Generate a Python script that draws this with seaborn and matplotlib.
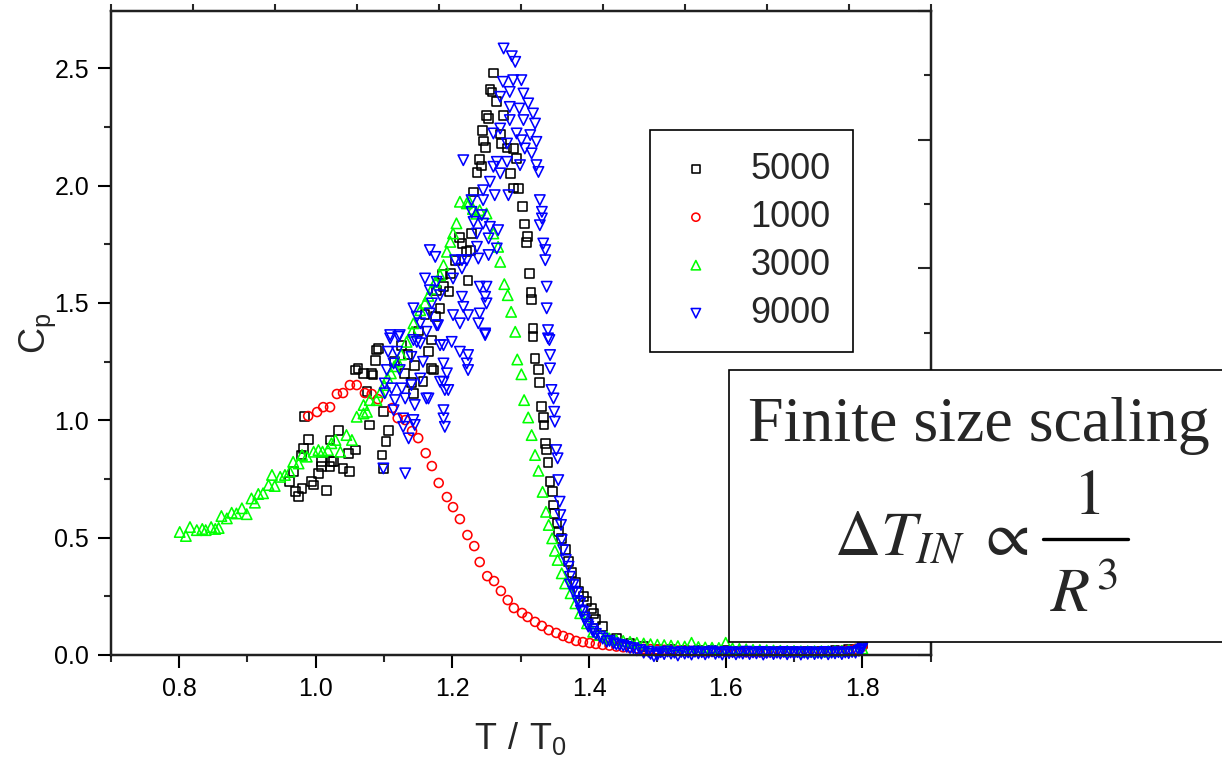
import numpy as np
import pandas as pd
import seaborn as sns
import matplotlib
matplotlib.use("Agg")
import matplotlib.pyplot as plt
from matplotlib.patches import Rectangle
from matplotlib.lines import Line2D
from matplotlib.ticker import MultipleLocator

# ---------------- data ----------------
series_labels = ["5000", "1000", "3000", "9000"]

black_5000 = [
    (0.984, 1.015), (0.989, 0.918), (0.982, 0.880), (0.979, 0.852), (0.967, 0.781), (0.962, 0.738),
    (0.970, 0.696), (0.975, 0.674), (0.980, 0.710), (0.994, 0.738), (0.997, 0.724), (1.004, 0.774),
    (1.009, 0.802), (1.009, 0.823), (1.016, 0.700), (1.021, 0.802), (1.023, 0.823), (1.021, 0.916),
    (1.033, 0.958), (1.026, 0.823), (1.040, 0.795), (1.050, 0.781), (1.048, 0.859), (1.058, 0.873),
    (1.058, 1.214), (1.062, 1.221), (1.070, 1.200), (1.082, 1.200), (1.084, 1.193), (1.075, 1.121),
    (1.079, 0.980), (1.089, 1.299), (1.088, 1.256), (1.099, 1.036), (1.106, 0.958), (1.103, 0.908),
    (1.097, 0.852), (1.099, 0.795), (1.092, 1.306),
    (1.115, 1.25), (1.125, 1.32), (1.130, 1.20), (1.135, 1.28), (1.140, 1.16), (1.143, 1.115),
    (1.145, 1.235), (1.150, 1.38), (1.157, 1.164), (1.160, 1.45), (1.165, 1.292), (1.170, 1.221),
    (1.170, 1.342), (1.172, 1.214), (1.175, 1.441), (1.177, 1.554), (1.182, 1.477), (1.185, 1.62),
    (1.187, 1.569), (1.195, 1.55), (1.197, 1.626), (1.205, 1.68), (1.210, 1.78), (1.214, 1.753),
    (1.221, 1.718), (1.223, 1.597), (1.226, 1.725), (1.228, 1.796), (1.231, 1.973), (1.236, 2.054),
    (1.240, 2.111), (1.243, 2.083), (1.244, 2.236), (1.245, 2.19), (1.248, 2.162), (1.250, 2.30),
    (1.253, 2.286), (1.255, 2.41), (1.258, 2.399), (1.260, 2.480), (1.265, 2.357), (1.270, 2.22),
    (1.272, 2.179), (1.275, 2.300), (1.280, 2.16), (1.285, 2.05), (1.289, 2.158), (1.290, 1.99),
    (1.294, 2.115), (1.297, 1.988), (1.303, 1.912), (1.306, 1.836), (1.308, 1.756), (1.310, 1.782),
    (1.313, 1.626), (1.315, 1.545), (1.316, 1.515), (1.318, 1.391), (1.318, 1.356), (1.321, 1.264),
    (1.326, 1.217), (1.328, 1.161), (1.331, 1.058), (1.333, 1.012), (1.334, 0.980), (1.336, 0.902),
    (1.338, 0.876), (1.340, 0.821), (1.343, 0.738), (1.346, 0.696), (1.348, 0.639), (1.350, 0.603),
    (1.353, 0.561), (1.355, 0.525), (1.360, 0.497), (1.365, 0.45), (1.370, 0.40), (1.375, 0.35),
    (1.380, 0.31), (1.385, 0.27), (1.392, 0.248), (1.397, 0.227), (1.404, 0.199), (1.406, 0.178),
    (1.410, 0.15), (1.420, 0.12), (1.440, 0.07), (1.460, 0.05), (1.480, 0.035), (1.500, 0.025),
    (1.520, 0.022), (1.540, 0.020), (1.560, 0.019), (1.580, 0.018), (1.600, 0.018), (1.620, 0.017),
    (1.640, 0.017), (1.660, 0.016), (1.680, 0.016), (1.700, 0.016), (1.720, 0.017), (1.740, 0.017),
    (1.760, 0.018), (1.780, 0.022), (1.800, 0.050),
]

red_1000 = [
    (0.989, 1.018), (1.002, 1.035), (1.011, 1.056), (1.021, 1.056), (1.031, 1.112), (1.040, 1.116),
    (1.050, 1.150), (1.060, 1.150), (1.072, 1.116), (1.082, 1.112), (1.091, 1.090), (1.112, 1.052),
    (1.120, 1.009), (1.131, 1.001), (1.141, 0.954), (1.150, 0.924), (1.161, 0.860), (1.170, 0.805),
    (1.180, 0.733), (1.192, 0.673), (1.201, 0.630), (1.211, 0.579), (1.222, 0.511), (1.232, 0.464),
    (1.240, 0.396), (1.251, 0.336), (1.261, 0.315), (1.271, 0.273), (1.281, 0.234), (1.290, 0.200),
    (1.302, 0.179), (1.310, 0.162), (1.321, 0.141), (1.331, 0.124), (1.341, 0.106), (1.352, 0.094),
    (1.362, 0.081), (1.371, 0.072), (1.381, 0.060), (1.391, 0.055), (1.401, 0.051),
    (1.41, 0.047), (1.42, 0.043), (1.43, 0.040), (1.44, 0.036), (1.45, 0.033), (1.46, 0.031),
    (1.47, 0.028), (1.48, 0.026), (1.49, 0.025), (1.50, 0.023), (1.51, 0.022), (1.52, 0.020),
    (1.53, 0.019), (1.54, 0.018), (1.55, 0.017), (1.56, 0.016), (1.57, 0.016), (1.58, 0.015),
    (1.59, 0.014), (1.60, 0.014), (1.61, 0.013), (1.62, 0.013), (1.63, 0.012), (1.64, 0.012),
    (1.65, 0.012), (1.66, 0.011), (1.67, 0.011), (1.68, 0.011), (1.69, 0.011), (1.70, 0.011),
    (1.71, 0.011), (1.72, 0.012), (1.73, 0.012), (1.74, 0.013), (1.75, 0.014), (1.76, 0.016),
    (1.77, 0.018), (1.78, 0.021), (1.79, 0.026), (1.80, 0.035),
]

green_3000 = [
    (0.801, 0.524), (0.810, 0.507), (0.816, 0.545), (0.826, 0.532), (0.834, 0.537), (0.839, 0.532),
    (0.847, 0.545), (0.853, 0.537), (0.858, 0.541), (0.862, 0.592), (0.870, 0.582), (0.877, 0.606),
    (0.884, 0.603), (0.892, 0.625), (0.899, 0.600), (0.906, 0.667), (0.911, 0.649), (0.916, 0.686),
    (0.923, 0.689), (0.931, 0.724), (0.936, 0.767), (0.940, 0.720), (0.948, 0.759), (0.955, 0.767),
    (0.962, 0.781), (0.967, 0.823), (0.975, 0.816), (0.980, 0.852), (0.987, 0.845), (0.997, 0.866),
    (1.004, 0.873), (1.010, 0.866), (1.018, 0.873), (1.023, 0.902), (1.029, 0.916), (1.036, 0.866),
    (1.045, 0.937), (1.053, 0.916), (1.060, 1.015), (1.070, 1.029), (1.075, 1.036), (1.070, 1.065),
    (1.079, 1.086), (1.089, 1.086), (1.095, 1.12), (1.100, 1.15), (1.105, 1.18), (1.110, 1.20),
    (1.115, 1.23), (1.120, 1.25), (1.125, 1.28), (1.133, 1.334), (1.141, 1.377), (1.143, 1.413),
    (1.153, 1.469), (1.160, 1.50), (1.165, 1.53), (1.170, 1.56), (1.175, 1.59), (1.182, 1.618),
    (1.187, 1.661), (1.192, 1.718), (1.197, 1.760), (1.201, 1.796), (1.206, 1.839), (1.211, 1.931),
    (1.221, 1.924), (1.225, 1.93), (1.230, 1.90), (1.235, 1.88), (1.240, 1.895), (1.250, 1.881),
    (1.260, 1.796), (1.267, 1.739), (1.270, 1.675), (1.276, 1.580), (1.281, 1.533), (1.286, 1.462),
    (1.292, 1.377), (1.295, 1.259), (1.301, 1.196), (1.305, 1.086), (1.311, 1.012), (1.316, 0.937),
    (1.321, 0.852), (1.326, 0.785), (1.332, 0.695), (1.337, 0.610), (1.341, 0.554), (1.346, 0.497),
    (1.350, 0.444), (1.354, 0.405), (1.360, 0.348), (1.365, 0.305), (1.373, 0.263), (1.380, 0.220),
    (1.387, 0.178), (1.397, 0.135), (1.406, 0.099), (1.416, 0.085), (1.426, 0.078),
    (1.43, 0.070), (1.44, 0.064), (1.45, 0.060), (1.46, 0.056), (1.47, 0.052), (1.48, 0.049),
    (1.49, 0.046), (1.50, 0.044), (1.51, 0.042), (1.52, 0.040), (1.53, 0.038), (1.54, 0.036),
    (1.55, 0.052), (1.56, 0.034), (1.57, 0.032), (1.58, 0.031), (1.59, 0.030), (1.60, 0.052),
    (1.61, 0.028), (1.62, 0.026), (1.63, 0.024), (1.64, 0.022), (1.65, 0.021), (1.66, 0.020),
    (1.67, 0.019), (1.68, 0.018), (1.69, 0.017), (1.70, 0.017), (1.71, 0.016), (1.72, 0.016),
    (1.73, 0.016), (1.74, 0.016), (1.75, 0.016), (1.76, 0.017), (1.77, 0.018), (1.78, 0.020),
    (1.79, 0.023), (1.80, 0.028),
]

blue_9000 = [
    (1.275, 2.584), (1.287, 2.551), (1.292, 2.527), (1.274, 2.442), (1.289, 2.449), (1.301, 2.449),
    (1.284, 2.399), (1.304, 2.392), (1.270, 2.378), (1.311, 2.350), (1.284, 2.335), (1.298, 2.328),
    (1.318, 2.307), (1.284, 2.279), (1.304, 2.279), (1.321, 2.264), (1.270, 2.243), (1.260, 2.222),
    (1.294, 2.222), (1.314, 2.215), (1.280, 2.179), (1.301, 2.193), (1.323, 2.186), (1.306, 2.158),
    (1.316, 2.137), (1.216, 2.108), (1.265, 2.101), (1.280, 2.101), (1.260, 2.080), (1.299, 2.087),
    (1.323, 2.087), (1.326, 2.058), (1.255, 2.016), (1.270, 2.052), (1.262, 1.959), (1.282, 1.959),
    (1.245, 1.980), (1.328, 1.938), (1.228, 1.938), (1.245, 1.938), (1.331, 1.888), (1.331, 1.860),
    (1.228, 1.888), (1.243, 1.874), (1.328, 1.831), (1.231, 1.845), (1.245, 1.838), (1.255, 1.824),
    (1.267, 1.810), (1.236, 1.796), (1.253, 1.775), (1.333, 1.753), (1.336, 1.725), (1.336, 1.682),
    (1.265, 1.732), (1.236, 1.739), (1.167, 1.725), (1.175, 1.696), (1.204, 1.682), (1.214, 1.682),
    (1.221, 1.682), (1.238, 1.689), (1.214, 1.647), (1.253, 1.704), (1.338, 1.569), (1.338, 1.477),
    (1.340, 1.384), (1.342, 1.342), (1.160, 1.604), (1.177, 1.590), (1.201, 1.604), (1.240, 1.569),
    (1.250, 1.569), (1.248, 1.526), (1.250, 1.498), (1.167, 1.554), (1.182, 1.533), (1.214, 1.526),
    (1.216, 1.483), (1.143, 1.477), (1.148, 1.441), (1.170, 1.498), (1.167, 1.455), (1.201, 1.448),
    (1.211, 1.413), (1.223, 1.448), (1.240, 1.455), (1.238, 1.413), (1.248, 1.370), (1.153, 1.413),
    (1.177, 1.405), (1.162, 1.377), (1.109, 1.349), (1.121, 1.356), (1.148, 1.334), (1.182, 1.320),
    (1.199, 1.334),
    (1.109, 1.363), (1.123, 1.363), (1.106, 1.292), (1.119, 1.292), (1.143, 1.342), (1.153, 1.328),
    (1.179, 1.405), (1.187, 1.320), (1.104, 1.214), (1.114, 1.242), (1.123, 1.214), (1.140, 1.270),
    (1.157, 1.249), (1.187, 1.242), (1.187, 1.164), (1.194, 1.129), (1.101, 1.157), (1.111, 1.136),
    (1.126, 1.136), (1.140, 1.150), (1.153, 1.178), (1.101, 1.115), (1.116, 1.086), (1.131, 1.093),
    (1.145, 1.065), (1.165, 1.093), (1.114, 1.043), (1.128, 1.008), (1.143, 1.001), (1.187, 1.043),
    (1.187, 1.008), (1.189, 0.972), (1.128, 0.972), (1.145, 0.980), (1.136, 0.923), (1.099, 0.795),
    (1.131, 0.774),
    (1.248, 1.363), (1.211, 1.292), (1.223, 1.278), (1.221, 1.242), (1.223, 1.214), (1.192, 1.200),
    (1.182, 1.164), (1.189, 1.129), (1.162, 1.093),
    (1.340, 1.349), (1.343, 1.278), (1.343, 1.221), (1.345, 1.129), (1.348, 1.093), (1.349, 1.036),
    (1.350, 0.994), (1.352, 0.873), (1.354, 0.838), (1.355, 0.745), (1.357, 0.653), (1.358, 0.596),
    (1.359, 0.554), (1.360, 0.490), (1.362, 0.447), (1.366, 0.405), (1.370, 0.376), (1.372, 0.333),
    (1.377, 0.298), (1.382, 0.263), (1.387, 0.220), (1.391, 0.184), (1.394, 0.149), (1.399, 0.121),
    (1.406, 0.099), (1.416, 0.078), (1.426, 0.057), (1.436, 0.050), (1.445, 0.043), (1.455, 0.035),
    (1.465, 0.029), (1.475, 0.021), (1.487, 0.014), (1.499, 0.007),
    (1.372, 0.30), (1.377, 0.27), (1.383, 0.23), (1.388, 0.19), (1.393, 0.16), (1.398, 0.13),
    (1.405, 0.11), (1.410, 0.09), (1.420, 0.07), (1.430, 0.06), (1.440, 0.045), (1.450, 0.040),
    (1.460, 0.030), (1.470, 0.020), (1.480, 0.010), (1.490, 0.005), (1.495, -0.005),
    (1.500, 0.000), (1.505, 0.012), (1.510, 0.004), (1.515, 0.015), (1.520, 0.006), (1.525, 0.010),
    (1.530, -0.002), (1.535, 0.013), (1.540, 0.006), (1.545, 0.011), (1.550, 0.002), (1.555, 0.014),
    (1.560, 0.007), (1.565, 0.012), (1.570, 0.003), (1.575, 0.010), (1.580, 0.015), (1.585, 0.005),
    (1.590, 0.011), (1.595, 0.002), (1.600, 0.013), (1.605, 0.008), (1.610, 0.012), (1.615, 0.003),
    (1.620, 0.010), (1.625, 0.006), (1.630, 0.014), (1.635, 0.004), (1.640, 0.011), (1.645, 0.007),
    (1.650, 0.013), (1.655, 0.002), (1.660, 0.009), (1.665, 0.012), (1.670, 0.004), (1.675, 0.010),
    (1.680, 0.006), (1.685, 0.013), (1.690, 0.003), (1.695, 0.011), (1.700, 0.007), (1.705, 0.012),
    (1.710, 0.002), (1.715, 0.010), (1.720, 0.005), (1.725, 0.012), (1.730, 0.004), (1.735, 0.009),
    (1.740, 0.006), (1.745, 0.013), (1.750, 0.003), (1.755, 0.010), (1.760, 0.007), (1.765, 0.012),
    (1.770, 0.004), (1.775, 0.011), (1.780, 0.008), (1.785, 0.013), (1.790, 0.010), (1.795, 0.018),
    (1.800, 0.030), (1.800, 0.045), (1.800, 0.060), (1.798, 0.022),
]

# ---------------- styling ----------------
sns.set_theme(style="white")
plt.rcParams["font.family"] = ["Liberation Sans", "DejaVu Sans"]
plt.rcParams["axes.unicode_minus"] = False

fig = plt.figure(figsize=(12.22, 7.63), dpi=100)
ax = fig.add_axes([110.7 / 1222, 108 / 763, 820 / 1222, 644.3 / 763])

styles = [
    ("5000", "#000000", "s", 40, black_5000),
    ("1000", "#ff0000", "o", 42, red_1000),
    ("3000", "#00ff00", "^", 56, green_3000),
    ("9000", "#0000ff", "v", 56, blue_9000),
]
for lab, col, mk, sz, pts in styles:
    df = pd.DataFrame(pts, columns=["T", "Cp"])
    sns.scatterplot(data=df, x="T", y="Cp", ax=ax, marker=mk, s=sz,
                    facecolor="none", edgecolor=col, linewidth=1.15,
                    label=lab, clip_on=False, zorder=3)

ax.set_xlim(0.7, 1.9)
ax.set_ylim(0, 2.745)
ax.xaxis.set_major_locator(MultipleLocator(0.2))
ax.xaxis.set_minor_locator(MultipleLocator(0.1))
ax.yaxis.set_major_locator(MultipleLocator(0.5))
ax.yaxis.set_minor_locator(MultipleLocator(0.25))
ax.tick_params(which="major", direction="out", length=9.5, width=1.5, labelsize=18,
               colors="black", pad=6, bottom=True, left=True, top=False, right=False)
ax.tick_params(which="minor", direction="out", length=5, width=1.5,
               bottom=True, left=True, top=False, right=False)
for sp in ax.spines.values():
    sp.set_linewidth(1.6)
    sp.set_color("black")
    sp.set_visible(True)

ax.set_xlabel(r"$\mathregular{T\ /\ T_0}$", fontsize=26, labelpad=14)
ax.set_ylabel(r"$\mathregular{C_p}$", fontsize=26, labelpad=-3)

# right axis (ticks pointing inward, no labels)
axr = ax.twinx()
axr.set_ylim(0, 5)
axr.yaxis.set_major_locator(MultipleLocator(1))
axr.yaxis.set_minor_locator(MultipleLocator(0.5))
axr.tick_params(axis="y", which="major", direction="in", length=9.5, width=1.5,
                right=True, labelright=False)
axr.tick_params(axis="y", which="minor", direction="in", length=5, width=1.5,
                right=True, labelright=False)
axr.grid(False)
for sp in axr.spines.values():
    sp.set_linewidth(1.6)
    sp.set_color("black")

# top axis small outward ticks
axt = ax.twiny()
axt.set_xlim(0, 10)
axt.xaxis.set_major_locator(MultipleLocator(1))
axt.tick_params(axis="x", which="major", direction="out", length=5, width=1.5,
                top=True, labeltop=False)
axt.grid(False)

leg = ax.legend(loc="upper left", bbox_to_anchor=((650 - 110.7) / 820, (655 - 130) / 644.3),
                fontsize=26, frameon=True, fancybox=False, shadow=False, framealpha=1,
                edgecolor="black", borderpad=0.6, handlelength=1.34, handletextpad=0.85,
                labelspacing=0.36, markerscale=0.9, borderaxespad=0)
leg.get_frame().set_linewidth(1.2)

# text box with finite size scaling note
W, H = 1222.0, 763.0
box = Rectangle((729 / W, (H - 642) / H), 0.42, 272 / H, transform=fig.transFigure,
                facecolor="white", edgecolor="black", linewidth=1.2, zorder=10)
fig.add_artist(box)
fig.text(979 / W, 1 - 441 / H, "Finite size scaling", ha="center", va="baseline",
         fontsize=46, family=["Liberation Serif", "DejaVu Serif"], zorder=11)
fig.text(834 / W, 1 - 555 / H, r"$\Delta T_{IN}\;\propto$",
         ha="left", va="baseline", fontsize=46, math_fontfamily="stix", zorder=11)
# fraction 1 / R^3
fig.text(1087 / W, 1 - 514 / H, r"$1$", ha="center", va="baseline",
         fontsize=46, math_fontfamily="stix", zorder=11)
fig.add_artist(Line2D([1043 / W, 1128 / W], [1 - 539 / H, 1 - 539 / H],
                      transform=fig.transFigure, color="black", linewidth=2.4, zorder=11))
fig.text(1050 / W, 1 - 612 / H, r"$R^{3}$", ha="left", va="baseline",
         fontsize=46, math_fontfamily="stix", zorder=11)

fig.savefig("out.png", dpi=100)
